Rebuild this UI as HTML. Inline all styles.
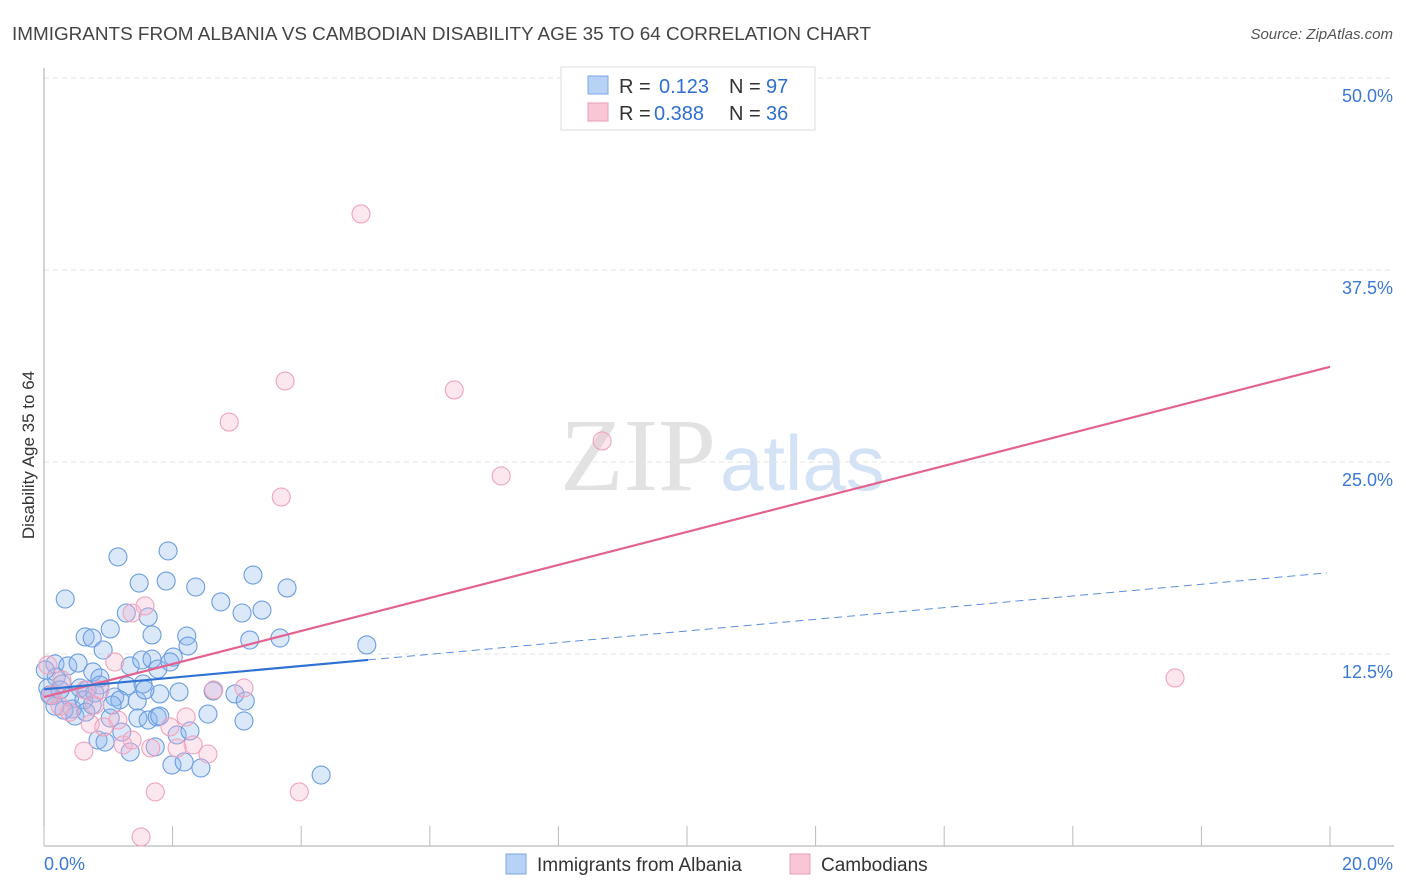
<!DOCTYPE html>
<html><head><meta charset="utf-8"><style>
body{margin:0;background:#fff;font-family:"Liberation Sans",sans-serif;}
svg{display:block}
</style></head><body>
<svg id="chart" width="1406" height="892" viewBox="0 0 1406 892" xmlns="http://www.w3.org/2000/svg">
<text x="12" y="40" font-size="18" fill="#444" textLength="859" lengthAdjust="spacingAndGlyphs">IMMIGRANTS FROM ALBANIA VS CAMBODIAN DISABILITY AGE 35 TO 64 CORRELATION CHART</text>
<text x="1393" y="39" font-size="15" fill="#555" font-style="italic" text-anchor="end">Source: ZipAtlas.com</text>
<text x="716" y="490" font-size="104" fill="#e2e2e2" text-anchor="end" font-family="Liberation Serif,serif">ZIP</text>
<text x="720" y="490" font-size="78" fill="#d3e2f4">atlas</text>
<g id="grid"></g>
<g id="axes"></g>
<g id="points"></g>
<g id="trends"></g>
<text x="34" y="455" font-size="17" fill="#333" text-anchor="middle" transform="rotate(-90 34 455)">Disability Age 35 to 64</text>
<g>
<rect x="561" y="67" width="254" height="63" fill="#fff" stroke="#ddd"/>
<rect x="588" y="76" width="20" height="18" fill="#b7d2f4" stroke="#7aa8e6"/>
<rect x="588" y="103" width="20" height="18" fill="#f9c6d6" stroke="#ee9bb5"/>
<text x="619" y="93" font-size="20" fill="#333">R = </text><text x="659" y="93" font-size="20" fill="#2f6fd0">0.123</text>
<text x="729" y="93" font-size="20" fill="#333">N = </text><text x="766" y="93" font-size="20" fill="#2f6fd0">97</text>
<text x="619" y="120" font-size="20" fill="#333">R = </text><text x="654" y="120" font-size="20" fill="#2f6fd0">0.388</text>
<text x="729" y="120" font-size="20" fill="#333">N = </text><text x="766" y="120" font-size="20" fill="#2f6fd0">36</text>
</g>
<g>
<rect x="506" y="854" width="20" height="20" fill="#b7d2f4" stroke="#7aa8e6"/>
<text x="537" y="871" font-size="19" fill="#333">Immigrants from Albania</text>
<rect x="790" y="854" width="20" height="20" fill="#f9c6d6" stroke="#ee9bb5"/>
<text x="821" y="871" font-size="19" fill="#333">Cambodians</text>
</g>
</svg>
<script>
const blueX=[0.33,1.15,1.93,1.48,1.90,2.36,3.25,3.78,2.75,1.28,1.62,3.08,3.39,1.03,1.68,0.64,0.75,2.22,3.20,3.67,5.02,0.92,2.24,2.01,0.17,0.37,0.53,1.34,1.52,1.68,1.77,0.76,0.87,1.29,1.54,0.19,0.28,0.06,0.56,0.67,0.87,1.80,2.10,2.63,2.97,0.12,0.40,1.10,1.18,1.45,0.75,0.44,0.48,1.03,1.46,1.62,1.76,2.55,3.11,0.84,0.95,1.21,1.73,1.34,2.07,2.27,1.99,2.18,2.44,4.31,3.13,0.17,0.31,0.09,0.02,0.25,0.62,0.79,1.06,1.57,1.96,0.65,1.80];
const blueY=[16.08,18.82,19.21,17.12,17.25,16.86,17.64,16.80,15.89,15.17,14.91,15.17,15.36,14.13,13.74,13.61,13.54,13.67,13.41,13.54,13.09,12.76,13.02,12.30,11.85,11.72,11.91,11.72,12.11,12.17,11.52,11.33,10.94,10.42,10.55,11.00,10.55,10.29,10.29,10.16,10.48,9.90,10.03,10.09,9.90,9.77,9.70,9.70,9.51,9.44,9.18,8.92,8.46,8.33,8.33,8.20,8.40,8.59,8.14,6.90,6.77,7.42,6.45,6.12,7.23,7.49,5.27,5.47,5.08,4.62,9.44,9.11,8.85,9.83,11.46,10.16,9.51,9.96,9.18,10.16,11.98,8.72,8.46];
const pinkX=[4.93,3.75,6.38,2.88,8.68,7.11,3.69,17.59,1.57,1.37,1.10,0.06,0.12,0.25,0.40,0.64,0.79,1.15,0.72,0.62,0.93,1.23,1.37,1.66,1.96,2.21,2.32,2.55,2.64,3.11,1.73,3.97,1.51,2.07,0.28,0.87];
const pinkY=[41.15,30.27,29.69,27.60,26.37,24.09,22.72,10.94,15.63,15.17,11.98,11.78,9.83,9.11,8.72,10.16,9.18,8.20,7.94,6.18,7.75,6.58,6.90,6.38,7.75,8.40,6.58,5.99,10.16,10.29,3.52,3.52,0.59,6.38,10.81,10.16];
const yTicks=[12.5,25.0,37.5,50.0];
const xTickLabels=["0.0%","20.0%"];
const blueTrend=[10.2,0.38]; // intercept, slope
const pinkTrend=[9.7,1.075];
const blueSolidEnd=5.04, xMax=19.95;

const NS="http://www.w3.org/2000/svg";
const sx=v=>44+v*64.3, sy=v=>846-v*15.36;
function mk(tag,attrs,parent){const e=document.createElementNS(NS,tag);for(const k in attrs)e.setAttribute(k,attrs[k]);parent.appendChild(e);return e;}
const grid=document.getElementById('grid'),axes=document.getElementById('axes'),pts=document.getElementById('points'),tr=document.getElementById('trends');
yTicks.forEach(t=>{
 const l=mk('line',{x1:44,x2:1394,y1:sy(t),y2:sy(t),stroke:'#e4e4e4','stroke-dasharray':'5,4'},grid);
 
 
 const tx=mk('text',{x:1393,y:sy(t)+24,'font-size':18,fill:'#3a78d4','text-anchor':'end'},axes);
 tx.textContent=t.toFixed(1)+'%';
 
 
});
mk('line',{x1:44,x2:44,y1:68,y2:846,stroke:'#aaa'},axes);
mk('line',{x1:44,x2:1394,y1:846,y2:846,stroke:'#aaa'},axes);
for(let i=0;i<=20;i+=2){const t=mk('line',{x1:sx(i),x2:sx(i),y1:826,y2:846,stroke:'#bbb'},axes);
 
 }
[[0,'start',44],[1,'end',1393]].forEach(([i,a,x])=>{const t=mk('text',{x:x,y:870,'font-size':18,fill:'#3a78d4','text-anchor':a},axes);t.textContent=xTickLabels[i];
 
 });
blueX.forEach((x,i)=>{const c=mk('circle',{cx:sx(x),cy:sy(blueY[i]),r:9,fill:'rgba(140,185,240,0.32)',stroke:'#6c9de0','stroke-width':1.1},pts);
 
 });
pinkX.forEach((x,i)=>{const c=mk('circle',{cx:sx(x),cy:sy(pinkY[i]),r:9,fill:'rgba(248,180,205,0.32)',stroke:'#f0a3bc','stroke-width':1.1},pts);
 
 });
const f=(t,x)=>t[0]+t[1]*x;
let l1=mk('line',{x1:sx(0),y1:sy(f(pinkTrend,0)),x2:sx(20),y2:sy(f(pinkTrend,20)),stroke:'#e4628f','stroke-width':2.2},tr);


let l2=mk('line',{x1:sx(0),y1:sy(f(blueTrend,0)),x2:sx(blueSolidEnd),y2:sy(f(blueTrend,blueSolidEnd)),stroke:'#2f72d4','stroke-width':2.2},tr);


let l3=mk('line',{x1:sx(blueSolidEnd),y1:sy(f(blueTrend,blueSolidEnd)),x2:sx(xMax),y2:sy(f(blueTrend,xMax)),stroke:'#5b8fd8','stroke-width':1,'stroke-dasharray':'8,5'},tr);


</script>
</body></html>
